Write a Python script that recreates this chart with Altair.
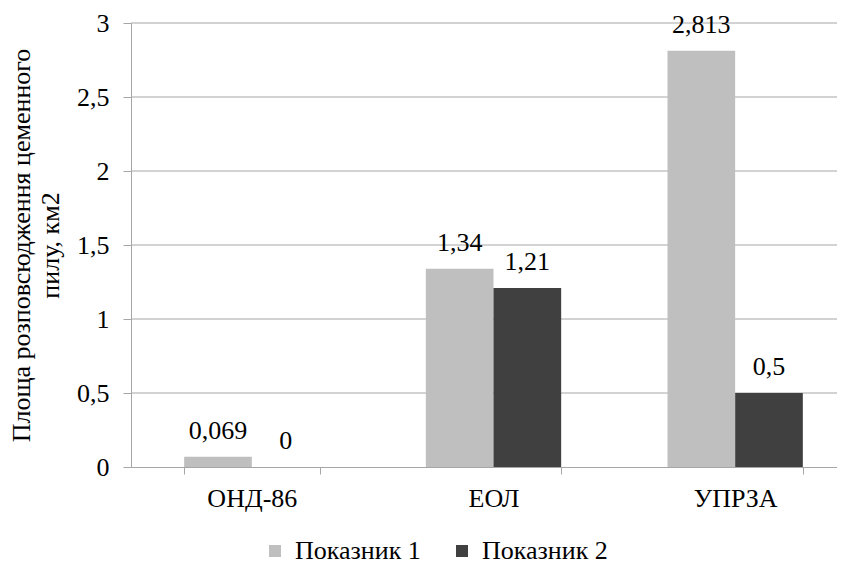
import altair as alt
import pandas as pd

categories = ["ОНД-86", "ЕОЛ", "УПРЗА"]
series = ["Показник 1", "Показник 2"]
values_1 = [0.069, 1.34, 2.813]
values_2 = [0, 1.21, 0.5]
colors = ["#BFBFBF", "#404040"]
y_ticks = [0, 0.5, 1, 1.5, 2, 2.5, 3]
y_title = ["Площа розповсюдження цеменного", "пилу, км2"]

rows = []
for s, vals in zip(series, [values_1, values_2]):
    for c, v in zip(categories, vals):
        rows.append({"cat": c, "series": s, "value": v,
                     "label": f"{v:g}".replace(".", ",")})
df = pd.DataFrame(rows)
grid_df = pd.DataFrame({"value": y_ticks[1:]})

FONT = "Liberation Serif"
GRID = "#A6A6A6"
FS = 26

y_enc = alt.Y("value:Q",
              scale=alt.Scale(domain=[0, 3], nice=False),
              axis=alt.Axis(values=y_ticks, title=y_title,
                            labelExpr="replace(format(datum.value, ''), '.', ',')",
                            labelFontSize=FS, labelFont=FONT, labelColor="black",
                            labelPadding=14, tickSize=8, tickColor=GRID,
                            domainColor=GRID, grid=False,
                            titleFont=FONT, titleFontSize=FS, titleFontWeight="normal",
                            titleLineHeight=29,
                            titleColor="black", titlePadding=13))

grid = alt.Chart(grid_df).mark_rule(color=GRID, strokeWidth=1).encode(
    y=y_enc, x=alt.value(0), x2=alt.value(725)
)

base = alt.Chart(df).encode(
    x=alt.X("cat:N", sort=categories,
            scale=alt.Scale(range=[0, 725], paddingInner=0.44, paddingOuter=0.22),
            axis=alt.Axis(title=None, labelAngle=0, tickBand="extent",
                          labelFontSize=FS, labelFont=FONT, labelColor="black",
                          labelPadding=11, tickSize=7, tickColor=GRID,
                          domainColor=GRID, grid=False)),
    xOffset=alt.XOffset("series:N", sort=series),
    y=y_enc,
)

bars = base.mark_bar().encode(
    color=alt.Color("series:N", sort=series,
                    scale=alt.Scale(domain=series, range=colors),
                    legend=alt.Legend(title=None, orient="none", legendX=131, legendY=515,
                                      direction="horizontal", symbolType="square",
                                      symbolSize=144, symbolStrokeWidth=0,
                                      labelFont=FONT, labelFontSize=FS, labelColor="black",
                                      labelOffset=7, columnPadding=28))
)

text = base.mark_text(dy=-18, fontSize=FS, font=FONT, color="black",
                      baseline="alphabetic").encode(
    text="label:N"
)

chart = (grid + bars + text).properties(
    width=706, height=444,
    autosize=alt.AutoSizeParams(type="none"),
    padding={"left": 123, "top": 15, "right": 0, "bottom": 100},
).configure_view(stroke=None)

chart.save("out.html", embed_options={"renderer": "svg", "actions": False})
